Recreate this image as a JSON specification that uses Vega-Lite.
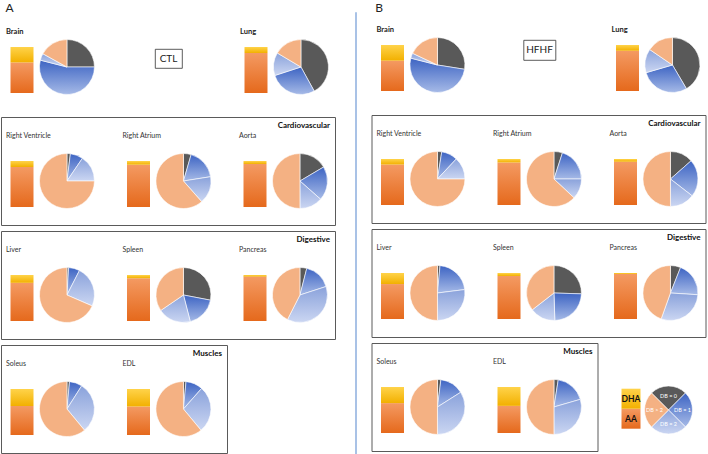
{
"$schema":"https://vega.github.io/schema/vega-lite/v6.json",
"padding":{"left":0,"top":0,"right":0,"bottom":0},
"background":"white",
"config":{"font":"Lato","view":{"stroke":null}},
"datasets":{"d":[
{"p":"CTL","g":"Top","o":"Brain","m":"FA","c":"AA","v":66.5},{"p":"CTL","g":"Top","o":"Brain","m":"FA","c":"DHA","v":33.5},
{"p":"CTL","g":"Top","o":"Brain","m":"DB","c":"DB = 0","v":25},{"p":"CTL","g":"Top","o":"Brain","m":"DB","c":"DB = 1","v":54},{"p":"CTL","g":"Top","o":"Brain","m":"DB","c":"DB = 2","v":4},{"p":"CTL","g":"Top","o":"Brain","m":"DB","c":"DB > 2","v":17},
{"p":"CTL","g":"Top","o":"Lung","m":"FA","c":"AA","v":87},{"p":"CTL","g":"Top","o":"Lung","m":"FA","c":"DHA","v":13},
{"p":"CTL","g":"Top","o":"Lung","m":"DB","c":"DB = 0","v":42},{"p":"CTL","g":"Top","o":"Lung","m":"DB","c":"DB = 1","v":28},{"p":"CTL","g":"Top","o":"Lung","m":"DB","c":"DB = 2","v":13.5},{"p":"CTL","g":"Top","o":"Lung","m":"DB","c":"DB > 2","v":16.5},
{"p":"CTL","g":"Cardiovascular","o":"Right Ventricle","m":"FA","c":"AA","v":87},{"p":"CTL","g":"Cardiovascular","o":"Right Ventricle","m":"FA","c":"DHA","v":13},
{"p":"CTL","g":"Cardiovascular","o":"Right Ventricle","m":"DB","c":"DB = 0","v":2},{"p":"CTL","g":"Cardiovascular","o":"Right Ventricle","m":"DB","c":"DB = 1","v":7.5},{"p":"CTL","g":"Cardiovascular","o":"Right Ventricle","m":"DB","c":"DB = 2","v":15.5},{"p":"CTL","g":"Cardiovascular","o":"Right Ventricle","m":"DB","c":"DB > 2","v":75},
{"p":"CTL","g":"Cardiovascular","o":"Right Atrium","m":"FA","c":"AA","v":92},{"p":"CTL","g":"Cardiovascular","o":"Right Atrium","m":"FA","c":"DHA","v":8},
{"p":"CTL","g":"Cardiovascular","o":"Right Atrium","m":"DB","c":"DB = 0","v":4.5},{"p":"CTL","g":"Cardiovascular","o":"Right Atrium","m":"DB","c":"DB = 1","v":18},{"p":"CTL","g":"Cardiovascular","o":"Right Atrium","m":"DB","c":"DB = 2","v":16},{"p":"CTL","g":"Cardiovascular","o":"Right Atrium","m":"DB","c":"DB > 2","v":61.5},
{"p":"CTL","g":"Cardiovascular","o":"Aorta","m":"FA","c":"AA","v":93.5},{"p":"CTL","g":"Cardiovascular","o":"Aorta","m":"FA","c":"DHA","v":6.5},
{"p":"CTL","g":"Cardiovascular","o":"Aorta","m":"DB","c":"DB = 0","v":16.5},{"p":"CTL","g":"Cardiovascular","o":"Aorta","m":"DB","c":"DB = 1","v":20},{"p":"CTL","g":"Cardiovascular","o":"Aorta","m":"DB","c":"DB = 2","v":13.5},{"p":"CTL","g":"Cardiovascular","o":"Aorta","m":"DB","c":"DB > 2","v":50},
{"p":"CTL","g":"Digestive","o":"Liver","m":"FA","c":"AA","v":83},{"p":"CTL","g":"Digestive","o":"Liver","m":"FA","c":"DHA","v":17},
{"p":"CTL","g":"Digestive","o":"Liver","m":"DB","c":"DB = 0","v":1},{"p":"CTL","g":"Digestive","o":"Liver","m":"DB","c":"DB = 1","v":6.5},{"p":"CTL","g":"Digestive","o":"Liver","m":"DB","c":"DB = 2","v":24},{"p":"CTL","g":"Digestive","o":"Liver","m":"DB","c":"DB > 2","v":68.5},
{"p":"CTL","g":"Digestive","o":"Spleen","m":"FA","c":"AA","v":93},{"p":"CTL","g":"Digestive","o":"Spleen","m":"FA","c":"DHA","v":7},
{"p":"CTL","g":"Digestive","o":"Spleen","m":"DB","c":"DB = 0","v":28},{"p":"CTL","g":"Digestive","o":"Spleen","m":"DB","c":"DB = 1","v":18},{"p":"CTL","g":"Digestive","o":"Spleen","m":"DB","c":"DB = 2","v":19.5},{"p":"CTL","g":"Digestive","o":"Spleen","m":"DB","c":"DB > 2","v":34.5},
{"p":"CTL","g":"Digestive","o":"Pancreas","m":"FA","c":"AA","v":96.5},{"p":"CTL","g":"Digestive","o":"Pancreas","m":"FA","c":"DHA","v":3.5},
{"p":"CTL","g":"Digestive","o":"Pancreas","m":"DB","c":"DB = 0","v":4},{"p":"CTL","g":"Digestive","o":"Pancreas","m":"DB","c":"DB = 1","v":16},{"p":"CTL","g":"Digestive","o":"Pancreas","m":"DB","c":"DB = 2","v":37.5},{"p":"CTL","g":"Digestive","o":"Pancreas","m":"DB","c":"DB > 2","v":42.5},
{"p":"CTL","g":"Muscles","o":"Soleus","m":"FA","c":"AA","v":63},{"p":"CTL","g":"Muscles","o":"Soleus","m":"FA","c":"DHA","v":37},
{"p":"CTL","g":"Muscles","o":"Soleus","m":"DB","c":"DB = 0","v":1.5},{"p":"CTL","g":"Muscles","o":"Soleus","m":"DB","c":"DB = 1","v":7.5},{"p":"CTL","g":"Muscles","o":"Soleus","m":"DB","c":"DB = 2","v":30},{"p":"CTL","g":"Muscles","o":"Soleus","m":"DB","c":"DB > 2","v":61},
{"p":"CTL","g":"Muscles","o":"EDL","m":"FA","c":"AA","v":62},{"p":"CTL","g":"Muscles","o":"EDL","m":"FA","c":"DHA","v":38},
{"p":"CTL","g":"Muscles","o":"EDL","m":"DB","c":"DB = 0","v":1.5},{"p":"CTL","g":"Muscles","o":"EDL","m":"DB","c":"DB = 1","v":10},{"p":"CTL","g":"Muscles","o":"EDL","m":"DB","c":"DB = 2","v":27.5},{"p":"CTL","g":"Muscles","o":"EDL","m":"DB","c":"DB > 2","v":61},
{"p":"HFHF","g":"Top","o":"Brain","m":"FA","c":"AA","v":66},{"p":"HFHF","g":"Top","o":"Brain","m":"FA","c":"DHA","v":34},
{"p":"HFHF","g":"Top","o":"Brain","m":"DB","c":"DB = 0","v":27.5},{"p":"HFHF","g":"Top","o":"Brain","m":"DB","c":"DB = 1","v":51.5},{"p":"HFHF","g":"Top","o":"Brain","m":"DB","c":"DB = 2","v":3},{"p":"HFHF","g":"Top","o":"Brain","m":"DB","c":"DB > 2","v":18},
{"p":"HFHF","g":"Top","o":"Lung","m":"FA","c":"AA","v":87.5},{"p":"HFHF","g":"Top","o":"Lung","m":"FA","c":"DHA","v":12.5},
{"p":"HFHF","g":"Top","o":"Lung","m":"DB","c":"DB = 0","v":41.5},{"p":"HFHF","g":"Top","o":"Lung","m":"DB","c":"DB = 1","v":29},{"p":"HFHF","g":"Top","o":"Lung","m":"DB","c":"DB = 2","v":14},{"p":"HFHF","g":"Top","o":"Lung","m":"DB","c":"DB > 2","v":15.5},
{"p":"HFHF","g":"Cardiovascular","o":"Right Ventricle","m":"FA","c":"AA","v":88},{"p":"HFHF","g":"Cardiovascular","o":"Right Ventricle","m":"FA","c":"DHA","v":12},
{"p":"HFHF","g":"Cardiovascular","o":"Right Ventricle","m":"DB","c":"DB = 0","v":2.5},{"p":"HFHF","g":"Cardiovascular","o":"Right Ventricle","m":"DB","c":"DB = 1","v":9.5},{"p":"HFHF","g":"Cardiovascular","o":"Right Ventricle","m":"DB","c":"DB = 2","v":13},{"p":"HFHF","g":"Cardiovascular","o":"Right Ventricle","m":"DB","c":"DB > 2","v":75},
{"p":"HFHF","g":"Cardiovascular","o":"Right Atrium","m":"FA","c":"AA","v":92.5},{"p":"HFHF","g":"Cardiovascular","o":"Right Atrium","m":"FA","c":"DHA","v":7.5},
{"p":"HFHF","g":"Cardiovascular","o":"Right Atrium","m":"DB","c":"DB = 0","v":5},{"p":"HFHF","g":"Cardiovascular","o":"Right Atrium","m":"DB","c":"DB = 1","v":20},{"p":"HFHF","g":"Cardiovascular","o":"Right Atrium","m":"DB","c":"DB = 2","v":12},{"p":"HFHF","g":"Cardiovascular","o":"Right Atrium","m":"DB","c":"DB > 2","v":63},
{"p":"HFHF","g":"Cardiovascular","o":"Aorta","m":"FA","c":"AA","v":94},{"p":"HFHF","g":"Cardiovascular","o":"Aorta","m":"FA","c":"DHA","v":6},
{"p":"HFHF","g":"Cardiovascular","o":"Aorta","m":"DB","c":"DB = 0","v":13.5},{"p":"HFHF","g":"Cardiovascular","o":"Aorta","m":"DB","c":"DB = 1","v":22},{"p":"HFHF","g":"Cardiovascular","o":"Aorta","m":"DB","c":"DB = 2","v":14.5},{"p":"HFHF","g":"Cardiovascular","o":"Aorta","m":"DB","c":"DB > 2","v":50},
{"p":"HFHF","g":"Digestive","o":"Liver","m":"FA","c":"AA","v":76},{"p":"HFHF","g":"Digestive","o":"Liver","m":"FA","c":"DHA","v":24},
{"p":"HFHF","g":"Digestive","o":"Liver","m":"DB","c":"DB = 0","v":1.5},{"p":"HFHF","g":"Digestive","o":"Liver","m":"DB","c":"DB = 1","v":21.5},{"p":"HFHF","g":"Digestive","o":"Liver","m":"DB","c":"DB = 2","v":27},{"p":"HFHF","g":"Digestive","o":"Liver","m":"DB","c":"DB > 2","v":50},
{"p":"HFHF","g":"Digestive","o":"Spleen","m":"FA","c":"AA","v":93.5},{"p":"HFHF","g":"Digestive","o":"Spleen","m":"FA","c":"DHA","v":6.5},
{"p":"HFHF","g":"Digestive","o":"Spleen","m":"DB","c":"DB = 0","v":25.5},{"p":"HFHF","g":"Digestive","o":"Spleen","m":"DB","c":"DB = 1","v":24},{"p":"HFHF","g":"Digestive","o":"Spleen","m":"DB","c":"DB = 2","v":15},{"p":"HFHF","g":"Digestive","o":"Spleen","m":"DB","c":"DB > 2","v":35.5},
{"p":"HFHF","g":"Digestive","o":"Pancreas","m":"FA","c":"AA","v":97.8},{"p":"HFHF","g":"Digestive","o":"Pancreas","m":"FA","c":"DHA","v":2.2},
{"p":"HFHF","g":"Digestive","o":"Pancreas","m":"DB","c":"DB = 0","v":6},{"p":"HFHF","g":"Digestive","o":"Pancreas","m":"DB","c":"DB = 1","v":20},{"p":"HFHF","g":"Digestive","o":"Pancreas","m":"DB","c":"DB = 2","v":29.5},{"p":"HFHF","g":"Digestive","o":"Pancreas","m":"DB","c":"DB > 2","v":44.5},
{"p":"HFHF","g":"Muscles","o":"Soleus","m":"FA","c":"AA","v":65},{"p":"HFHF","g":"Muscles","o":"Soleus","m":"FA","c":"DHA","v":35},
{"p":"HFHF","g":"Muscles","o":"Soleus","m":"DB","c":"DB = 0","v":2},{"p":"HFHF","g":"Muscles","o":"Soleus","m":"DB","c":"DB = 1","v":14},{"p":"HFHF","g":"Muscles","o":"Soleus","m":"DB","c":"DB = 2","v":34},{"p":"HFHF","g":"Muscles","o":"Soleus","m":"DB","c":"DB > 2","v":50},
{"p":"HFHF","g":"Muscles","o":"EDL","m":"FA","c":"AA","v":59},{"p":"HFHF","g":"Muscles","o":"EDL","m":"FA","c":"DHA","v":41},
{"p":"HFHF","g":"Muscles","o":"EDL","m":"DB","c":"DB = 0","v":2.5},{"p":"HFHF","g":"Muscles","o":"EDL","m":"DB","c":"DB = 1","v":18},{"p":"HFHF","g":"Muscles","o":"EDL","m":"DB","c":"DB = 2","v":29.5},{"p":"HFHF","g":"Muscles","o":"EDL","m":"DB","c":"DB > 2","v":50},
{"p":"HFHF","g":"Legend","o":"Legend","m":"FA","c":"AA","v":50},{"p":"HFHF","g":"Legend","o":"Legend","m":"FA","c":"DHA","v":50},
{"p":"HFHF","g":"Legend","o":"Legend","m":"DB","c":"DB = 0","v":25},{"p":"HFHF","g":"Legend","o":"Legend","m":"DB","c":"DB = 1","v":25},{"p":"HFHF","g":"Legend","o":"Legend","m":"DB","c":"DB = 2","v":25},{"p":"HFHF","g":"Legend","o":"Legend","m":"DB","c":"DB > 2","v":25}
]},
"spacing":18,
"hconcat":[
{"spacing":12,"vconcat":[
 {"width":17,"height":12,"data":{"values":[{}]},"mark":{"type":"text","text":"A","fontSize":12,"color":"#222222","baseline":"middle"}},
 {"spacing":4,"vconcat":[
  {"spacing":52,"hconcat":[
   {"width":101,"height":86,"data":{"name":"d"},
    "transform":[{"filter":"datum.p=='CTL' && datum.o=='Brain'"},{"stack":"v","groupby":["o","m"],"sort":[{"field":"c","order":"ascending"}],"as":["v0","v1"]}],
    "layer":[
     {"encoding":{"x":{"field":"o","type":"nominal","scale":{"domain":["Brain"],"paddingInner":0,"paddingOuter":0},"axis":null},
       "y":{"field":"v0","type":"quantitative","scale":{"domain":[-41.3,145.65],"nice":false,"zero":false},"axis":null},"y2":{"field":"v1"}},
      "layer":[{"transform":[{"filter":"datum.c=='AA'"}],"mark":{"type":"bar","width":23,"xOffset":-29.5,"fill":{"gradient":"linear","x1":0,"y1":0,"x2":0,"y2":1,"stops":[{"offset":0,"color":"#F49A62"},{"offset":1,"color":"#E5691C"}]}}},{"transform":[{"filter":"datum.c=='DHA'"}],"mark":{"type":"bar","width":23,"xOffset":-29.5,"fill":{"gradient":"linear","x1":0,"y1":0,"x2":0,"y2":1,"stops":[{"offset":0,"color":"#FFD34A"},{"offset":1,"color":"#F2B000"}]}}}]},
     {"transform":[{"filter":"datum.c=='AA'"}],"mark":{"type":"text","align":"left","baseline":"alphabetic","dx":5,"fontSize":7.5,"fontWeight":"bold","color":"#222222"},
      "encoding":{"x":{"field":"o","type":"nominal","bandPosition":0,"axis":null},"y":{"datum":128.3,"type":"quantitative"},"text":{"field":"o"}}},
     {"encoding":{"x":{"field":"o","type":"nominal","bandPosition":0.653,"axis":null},
       "y":{"datum":56.5,"type":"quantitative"},"theta":{"field":"v0","type":"quantitative","scale":{"domain":[0,100]}},"theta2":{"field":"v1"}},
      "layer":[{"transform":[{"filter":"datum.c=='DB = 0'"}],"mark":{"type":"arc","outerRadius":27.5,"stroke":"#ffffff","strokeWidth":0.6,"fill":"#595959"}},{"transform":[{"filter":"datum.c=='DB = 1'"}],"mark":{"type":"arc","outerRadius":27.5,"stroke":"#ffffff","strokeWidth":0.6,"fill":{"gradient":"linear","x1":0,"y1":0,"x2":0,"y2":1,"stops":[{"offset":0,"color":"#3D64C3"},{"offset":1,"color":"#A6BAE7"}]}}},{"transform":[{"filter":"datum.c=='DB = 2'"}],"mark":{"type":"arc","outerRadius":27.5,"stroke":"#ffffff","strokeWidth":0.6,"fill":{"gradient":"linear","x1":0,"y1":0,"x2":0,"y2":1,"stops":[{"offset":0,"color":"#8AA2DB"},{"offset":1,"color":"#CBD6F2"}]}}},{"transform":[{"filter":"datum.c=='DB > 2'"}],"mark":{"type":"arc","outerRadius":27.5,"stroke":"#ffffff","strokeWidth":0.6,"fill":"#F4B183"}}]}
    ]},
   {"spacing":0,"vconcat":[
    {"width":27,"height":22,"data":{"values":[{}]},"mark":{"type":"text","text":""}},
    {"width":27,"height":19,"view":{"stroke":"#333333","strokeWidth":0.8},"data":{"values":[{}]},"mark":{"type":"text","text":"CTL","fontSize":10,"color":"#222222","baseline":"middle"}}
   ]},
   {"width":101,"height":86,"data":{"name":"d"},
    "transform":[{"filter":"datum.p=='CTL' && datum.o=='Lung'"},{"stack":"v","groupby":["o","m"],"sort":[{"field":"c","order":"ascending"}],"as":["v0","v1"]}],
    "layer":[
     {"encoding":{"x":{"field":"o","type":"nominal","scale":{"domain":["Lung"],"paddingInner":0,"paddingOuter":0},"axis":null},
       "y":{"field":"v0","type":"quantitative","scale":{"domain":[-41.3,145.65],"nice":false,"zero":false},"axis":null},"y2":{"field":"v1"}},
      "layer":[{"transform":[{"filter":"datum.c=='AA'"}],"mark":{"type":"bar","width":23,"xOffset":-29.5,"fill":{"gradient":"linear","x1":0,"y1":0,"x2":0,"y2":1,"stops":[{"offset":0,"color":"#F49A62"},{"offset":1,"color":"#E5691C"}]}}},{"transform":[{"filter":"datum.c=='DHA'"}],"mark":{"type":"bar","width":23,"xOffset":-29.5,"fill":{"gradient":"linear","x1":0,"y1":0,"x2":0,"y2":1,"stops":[{"offset":0,"color":"#FFD34A"},{"offset":1,"color":"#F2B000"}]}}}]},
     {"transform":[{"filter":"datum.c=='AA'"}],"mark":{"type":"text","align":"left","baseline":"alphabetic","dx":5,"fontSize":7.5,"fontWeight":"bold","color":"#222222"},
      "encoding":{"x":{"field":"o","type":"nominal","bandPosition":0,"axis":null},"y":{"datum":128.3,"type":"quantitative"},"text":{"field":"o"}}},
     {"encoding":{"x":{"field":"o","type":"nominal","bandPosition":0.653,"axis":null},
       "y":{"datum":56.5,"type":"quantitative"},"theta":{"field":"v0","type":"quantitative","scale":{"domain":[0,100]}},"theta2":{"field":"v1"}},
      "layer":[{"transform":[{"filter":"datum.c=='DB = 0'"}],"mark":{"type":"arc","outerRadius":27.5,"stroke":"#ffffff","strokeWidth":0.6,"fill":"#595959"}},{"transform":[{"filter":"datum.c=='DB = 1'"}],"mark":{"type":"arc","outerRadius":27.5,"stroke":"#ffffff","strokeWidth":0.6,"fill":{"gradient":"linear","x1":0,"y1":0,"x2":0,"y2":1,"stops":[{"offset":0,"color":"#3D64C3"},{"offset":1,"color":"#A6BAE7"}]}}},{"transform":[{"filter":"datum.c=='DB = 2'"}],"mark":{"type":"arc","outerRadius":27.5,"stroke":"#ffffff","strokeWidth":0.6,"fill":{"gradient":"linear","x1":0,"y1":0,"x2":0,"y2":1,"stops":[{"offset":0,"color":"#8AA2DB"},{"offset":1,"color":"#CBD6F2"}]}}},{"transform":[{"filter":"datum.c=='DB > 2'"}],"mark":{"type":"arc","outerRadius":27.5,"stroke":"#ffffff","strokeWidth":0.6,"fill":"#F4B183"}}]}
    ]}
  ]},
  {"width":334,"height":108,"view":{"stroke":"#5a5a5a","strokeWidth":1},
   "title":{"text":"Cardiovascular","anchor":"end","frame":"group","offset":-12.5,"dx":-5,"fontSize":8,"fontWeight":"bold","color":"#111111"},
   "data":{"name":"d"},
   "transform":[{"filter":"datum.p=='CTL' && datum.g=='Cardiovascular'"},{"stack":"v","groupby":["o","m"],"sort":[{"field":"c","order":"ascending"}],"as":["v0","v1"]}],
   "layer":[
    {"encoding":{"x":{"field":"o","type":"nominal","scale":{"domain":["Right Ventricle","Right Atrium","Aorta"],"paddingInner":0.133,"paddingOuter":0},"axis":null},
      "y":{"field":"v0","type":"quantitative","scale":{"domain":[-39.13,195.65],"nice":false,"zero":false},"axis":null},"y2":{"field":"v1"}},
     "layer":[{"transform":[{"filter":"datum.c=='AA'"}],"mark":{"type":"bar","width":23,"xOffset":-29.5,"fill":{"gradient":"linear","x1":0,"y1":0,"x2":0,"y2":1,"stops":[{"offset":0,"color":"#F49A62"},{"offset":1,"color":"#E5691C"}]}}},{"transform":[{"filter":"datum.c=='DHA'"}],"mark":{"type":"bar","width":23,"xOffset":-29.5,"fill":{"gradient":"linear","x1":0,"y1":0,"x2":0,"y2":1,"stops":[{"offset":0,"color":"#FFD34A"},{"offset":1,"color":"#F2B000"}]}}}]},
    {"transform":[{"filter":"datum.c=='AA'"}],"mark":{"type":"text","align":"left","baseline":"alphabetic","dx":5,"fontSize":7,"color":"#333333"},
     "encoding":{"x":{"field":"o","type":"nominal","bandPosition":0,"axis":null},"y":{"datum":150,"type":"quantitative"},"text":{"field":"o"}}},
    {"encoding":{"x":{"field":"o","type":"nominal","bandPosition":0.653,"axis":null},
      "y":{"datum":56.5,"type":"quantitative"},"theta":{"field":"v0","type":"quantitative","scale":{"domain":[0,100]}},"theta2":{"field":"v1"}},
     "layer":[{"transform":[{"filter":"datum.c=='DB = 0'"}],"mark":{"type":"arc","outerRadius":27.5,"stroke":"#ffffff","strokeWidth":0.6,"fill":"#595959"}},{"transform":[{"filter":"datum.c=='DB = 1'"}],"mark":{"type":"arc","outerRadius":27.5,"stroke":"#ffffff","strokeWidth":0.6,"fill":{"gradient":"linear","x1":0,"y1":0,"x2":0,"y2":1,"stops":[{"offset":0,"color":"#3D64C3"},{"offset":1,"color":"#A6BAE7"}]}}},{"transform":[{"filter":"datum.c=='DB = 2'"}],"mark":{"type":"arc","outerRadius":27.5,"stroke":"#ffffff","strokeWidth":0.6,"fill":{"gradient":"linear","x1":0,"y1":0,"x2":0,"y2":1,"stops":[{"offset":0,"color":"#8AA2DB"},{"offset":1,"color":"#CBD6F2"}]}}},{"transform":[{"filter":"datum.c=='DB > 2'"}],"mark":{"type":"arc","outerRadius":27.5,"stroke":"#ffffff","strokeWidth":0.6,"fill":"#F4B183"}}]}
   ]},
  {"width":334,"height":108,"view":{"stroke":"#5a5a5a","strokeWidth":1},
   "title":{"text":"Digestive","anchor":"end","frame":"group","offset":-12.5,"dx":-5,"fontSize":8,"fontWeight":"bold","color":"#111111"},
   "data":{"name":"d"},
   "transform":[{"filter":"datum.p=='CTL' && datum.g=='Digestive'"},{"stack":"v","groupby":["o","m"],"sort":[{"field":"c","order":"ascending"}],"as":["v0","v1"]}],
   "layer":[
    {"encoding":{"x":{"field":"o","type":"nominal","scale":{"domain":["Liver","Spleen","Pancreas"],"paddingInner":0.133,"paddingOuter":0},"axis":null},
      "y":{"field":"v0","type":"quantitative","scale":{"domain":[-39.13,195.65],"nice":false,"zero":false},"axis":null},"y2":{"field":"v1"}},
     "layer":[{"transform":[{"filter":"datum.c=='AA'"}],"mark":{"type":"bar","width":23,"xOffset":-29.5,"fill":{"gradient":"linear","x1":0,"y1":0,"x2":0,"y2":1,"stops":[{"offset":0,"color":"#F49A62"},{"offset":1,"color":"#E5691C"}]}}},{"transform":[{"filter":"datum.c=='DHA'"}],"mark":{"type":"bar","width":23,"xOffset":-29.5,"fill":{"gradient":"linear","x1":0,"y1":0,"x2":0,"y2":1,"stops":[{"offset":0,"color":"#FFD34A"},{"offset":1,"color":"#F2B000"}]}}}]},
    {"transform":[{"filter":"datum.c=='AA'"}],"mark":{"type":"text","align":"left","baseline":"alphabetic","dx":5,"fontSize":7,"color":"#333333"},
     "encoding":{"x":{"field":"o","type":"nominal","bandPosition":0,"axis":null},"y":{"datum":150,"type":"quantitative"},"text":{"field":"o"}}},
    {"encoding":{"x":{"field":"o","type":"nominal","bandPosition":0.653,"axis":null},
      "y":{"datum":56.5,"type":"quantitative"},"theta":{"field":"v0","type":"quantitative","scale":{"domain":[0,100]}},"theta2":{"field":"v1"}},
     "layer":[{"transform":[{"filter":"datum.c=='DB = 0'"}],"mark":{"type":"arc","outerRadius":27.5,"stroke":"#ffffff","strokeWidth":0.6,"fill":"#595959"}},{"transform":[{"filter":"datum.c=='DB = 1'"}],"mark":{"type":"arc","outerRadius":27.5,"stroke":"#ffffff","strokeWidth":0.6,"fill":{"gradient":"linear","x1":0,"y1":0,"x2":0,"y2":1,"stops":[{"offset":0,"color":"#3D64C3"},{"offset":1,"color":"#A6BAE7"}]}}},{"transform":[{"filter":"datum.c=='DB = 2'"}],"mark":{"type":"arc","outerRadius":27.5,"stroke":"#ffffff","strokeWidth":0.6,"fill":{"gradient":"linear","x1":0,"y1":0,"x2":0,"y2":1,"stops":[{"offset":0,"color":"#8AA2DB"},{"offset":1,"color":"#CBD6F2"}]}}},{"transform":[{"filter":"datum.c=='DB > 2'"}],"mark":{"type":"arc","outerRadius":27.5,"stroke":"#ffffff","strokeWidth":0.6,"fill":"#F4B183"}}]}
   ]},
  {"width":226,"height":108,"view":{"stroke":"#5a5a5a","strokeWidth":1},
   "title":{"text":"Muscles","anchor":"end","frame":"group","offset":-12.5,"dx":-5,"fontSize":8,"fontWeight":"bold","color":"#111111"},
   "data":{"name":"d"},
   "transform":[{"filter":"datum.p=='CTL' && datum.g=='Muscles'"},{"stack":"v","groupby":["o","m"],"sort":[{"field":"c","order":"ascending"}],"as":["v0","v1"]}],
   "layer":[
    {"encoding":{"x":{"field":"o","type":"nominal","scale":{"domain":["Soleus","EDL"],"paddingInner":0.133,"paddingOuter":0.0365,"align":0},"axis":null},
      "y":{"field":"v0","type":"quantitative","scale":{"domain":[-39.13,195.65],"nice":false,"zero":false},"axis":null},"y2":{"field":"v1"}},
     "layer":[{"transform":[{"filter":"datum.c=='AA'"}],"mark":{"type":"bar","width":23,"xOffset":-29.5,"fill":{"gradient":"linear","x1":0,"y1":0,"x2":0,"y2":1,"stops":[{"offset":0,"color":"#F49A62"},{"offset":1,"color":"#E5691C"}]}}},{"transform":[{"filter":"datum.c=='DHA'"}],"mark":{"type":"bar","width":23,"xOffset":-29.5,"fill":{"gradient":"linear","x1":0,"y1":0,"x2":0,"y2":1,"stops":[{"offset":0,"color":"#FFD34A"},{"offset":1,"color":"#F2B000"}]}}}]},
    {"transform":[{"filter":"datum.c=='AA'"}],"mark":{"type":"text","align":"left","baseline":"alphabetic","dx":5,"fontSize":7,"color":"#333333"},
     "encoding":{"x":{"field":"o","type":"nominal","bandPosition":0,"axis":null},"y":{"datum":150,"type":"quantitative"},"text":{"field":"o"}}},
    {"encoding":{"x":{"field":"o","type":"nominal","bandPosition":0.653,"axis":null},
      "y":{"datum":56.5,"type":"quantitative"},"theta":{"field":"v0","type":"quantitative","scale":{"domain":[0,100]}},"theta2":{"field":"v1"}},
     "layer":[{"transform":[{"filter":"datum.c=='DB = 0'"}],"mark":{"type":"arc","outerRadius":27.5,"stroke":"#ffffff","strokeWidth":0.6,"fill":"#595959"}},{"transform":[{"filter":"datum.c=='DB = 1'"}],"mark":{"type":"arc","outerRadius":27.5,"stroke":"#ffffff","strokeWidth":0.6,"fill":{"gradient":"linear","x1":0,"y1":0,"x2":0,"y2":1,"stops":[{"offset":0,"color":"#3D64C3"},{"offset":1,"color":"#A6BAE7"}]}}},{"transform":[{"filter":"datum.c=='DB = 2'"}],"mark":{"type":"arc","outerRadius":27.5,"stroke":"#ffffff","strokeWidth":0.6,"fill":{"gradient":"linear","x1":0,"y1":0,"x2":0,"y2":1,"stops":[{"offset":0,"color":"#8AA2DB"},{"offset":1,"color":"#CBD6F2"}]}}},{"transform":[{"filter":"datum.c=='DB > 2'"}],"mark":{"type":"arc","outerRadius":27.5,"stroke":"#ffffff","strokeWidth":0.6,"fill":"#F4B183"}}]}
   ]}
 ]}
]},
{"spacing":13.5,"hconcat":[
 {"spacing":0,"vconcat":[
  {"width":1,"height":8,"data":{"values":[{}]},"mark":{"type":"text","text":""}},
  {"width":1,"height":446,"view":{"stroke":"#A9C2E6","strokeWidth":1},"data":{"values":[{}]},"mark":{"type":"text","text":""}}
 ]},
 {"spacing":10,"vconcat":[
  {"width":15,"height":12,"data":{"values":[{}]},"mark":{"type":"text","text":"B","fontSize":12,"color":"#222222","baseline":"middle"}},
  {"spacing":4,"vconcat":[
   {"spacing":50,"hconcat":[
    {"width":101,"height":86,"data":{"name":"d"},
     "transform":[{"filter":"datum.p=='HFHF' && datum.o=='Brain'"},{"stack":"v","groupby":["o","m"],"sort":[{"field":"c","order":"ascending"}],"as":["v0","v1"]}],
     "layer":[
      {"encoding":{"x":{"field":"o","type":"nominal","scale":{"domain":["Brain"],"paddingInner":0,"paddingOuter":0},"axis":null},
        "y":{"field":"v0","type":"quantitative","scale":{"domain":[-41.3,145.65],"nice":false,"zero":false},"axis":null},"y2":{"field":"v1"}},
       "layer":[{"transform":[{"filter":"datum.c=='AA'"}],"mark":{"type":"bar","width":23,"xOffset":-29.5,"fill":{"gradient":"linear","x1":0,"y1":0,"x2":0,"y2":1,"stops":[{"offset":0,"color":"#F49A62"},{"offset":1,"color":"#E5691C"}]}}},{"transform":[{"filter":"datum.c=='DHA'"}],"mark":{"type":"bar","width":23,"xOffset":-29.5,"fill":{"gradient":"linear","x1":0,"y1":0,"x2":0,"y2":1,"stops":[{"offset":0,"color":"#FFD34A"},{"offset":1,"color":"#F2B000"}]}}}]},
      {"transform":[{"filter":"datum.c=='AA'"}],"mark":{"type":"text","align":"left","baseline":"alphabetic","dx":5,"fontSize":7.5,"fontWeight":"bold","color":"#222222"},
       "encoding":{"x":{"field":"o","type":"nominal","bandPosition":0,"axis":null},"y":{"datum":128.3,"type":"quantitative"},"text":{"field":"o"}}},
      {"encoding":{"x":{"field":"o","type":"nominal","bandPosition":0.653,"axis":null},
        "y":{"datum":56.5,"type":"quantitative"},"theta":{"field":"v0","type":"quantitative","scale":{"domain":[0,100]}},"theta2":{"field":"v1"}},
       "layer":[{"transform":[{"filter":"datum.c=='DB = 0'"}],"mark":{"type":"arc","outerRadius":27.5,"stroke":"#ffffff","strokeWidth":0.6,"fill":"#595959"}},{"transform":[{"filter":"datum.c=='DB = 1'"}],"mark":{"type":"arc","outerRadius":27.5,"stroke":"#ffffff","strokeWidth":0.6,"fill":{"gradient":"linear","x1":0,"y1":0,"x2":0,"y2":1,"stops":[{"offset":0,"color":"#3D64C3"},{"offset":1,"color":"#A6BAE7"}]}}},{"transform":[{"filter":"datum.c=='DB = 2'"}],"mark":{"type":"arc","outerRadius":27.5,"stroke":"#ffffff","strokeWidth":0.6,"fill":{"gradient":"linear","x1":0,"y1":0,"x2":0,"y2":1,"stops":[{"offset":0,"color":"#8AA2DB"},{"offset":1,"color":"#CBD6F2"}]}}},{"transform":[{"filter":"datum.c=='DB > 2'"}],"mark":{"type":"arc","outerRadius":27.5,"stroke":"#ffffff","strokeWidth":0.6,"fill":"#F4B183"}}]}
     ]},
    {"spacing":0,"vconcat":[
     {"width":32,"height":15,"data":{"values":[{}]},"mark":{"type":"text","text":""}},
     {"width":32,"height":20,"view":{"stroke":"#333333","strokeWidth":0.8},"data":{"values":[{}]},"mark":{"type":"text","text":"HFHF","fontSize":10,"color":"#222222","baseline":"middle"}}
    ]},
    {"width":101,"height":86,"data":{"name":"d"},
     "transform":[{"filter":"datum.p=='HFHF' && datum.o=='Lung'"},{"stack":"v","groupby":["o","m"],"sort":[{"field":"c","order":"ascending"}],"as":["v0","v1"]}],
     "layer":[
      {"encoding":{"x":{"field":"o","type":"nominal","scale":{"domain":["Lung"],"paddingInner":0,"paddingOuter":0},"axis":null},
        "y":{"field":"v0","type":"quantitative","scale":{"domain":[-41.3,145.65],"nice":false,"zero":false},"axis":null},"y2":{"field":"v1"}},
       "layer":[{"transform":[{"filter":"datum.c=='AA'"}],"mark":{"type":"bar","width":23,"xOffset":-29.5,"fill":{"gradient":"linear","x1":0,"y1":0,"x2":0,"y2":1,"stops":[{"offset":0,"color":"#F49A62"},{"offset":1,"color":"#E5691C"}]}}},{"transform":[{"filter":"datum.c=='DHA'"}],"mark":{"type":"bar","width":23,"xOffset":-29.5,"fill":{"gradient":"linear","x1":0,"y1":0,"x2":0,"y2":1,"stops":[{"offset":0,"color":"#FFD34A"},{"offset":1,"color":"#F2B000"}]}}}]},
      {"transform":[{"filter":"datum.c=='AA'"}],"mark":{"type":"text","align":"left","baseline":"alphabetic","dx":5,"fontSize":7.5,"fontWeight":"bold","color":"#222222"},
       "encoding":{"x":{"field":"o","type":"nominal","bandPosition":0,"axis":null},"y":{"datum":128.3,"type":"quantitative"},"text":{"field":"o"}}},
      {"encoding":{"x":{"field":"o","type":"nominal","bandPosition":0.653,"axis":null},
        "y":{"datum":56.5,"type":"quantitative"},"theta":{"field":"v0","type":"quantitative","scale":{"domain":[0,100]}},"theta2":{"field":"v1"}},
       "layer":[{"transform":[{"filter":"datum.c=='DB = 0'"}],"mark":{"type":"arc","outerRadius":27.5,"stroke":"#ffffff","strokeWidth":0.6,"fill":"#595959"}},{"transform":[{"filter":"datum.c=='DB = 1'"}],"mark":{"type":"arc","outerRadius":27.5,"stroke":"#ffffff","strokeWidth":0.6,"fill":{"gradient":"linear","x1":0,"y1":0,"x2":0,"y2":1,"stops":[{"offset":0,"color":"#3D64C3"},{"offset":1,"color":"#A6BAE7"}]}}},{"transform":[{"filter":"datum.c=='DB = 2'"}],"mark":{"type":"arc","outerRadius":27.5,"stroke":"#ffffff","strokeWidth":0.6,"fill":{"gradient":"linear","x1":0,"y1":0,"x2":0,"y2":1,"stops":[{"offset":0,"color":"#8AA2DB"},{"offset":1,"color":"#CBD6F2"}]}}},{"transform":[{"filter":"datum.c=='DB > 2'"}],"mark":{"type":"arc","outerRadius":27.5,"stroke":"#ffffff","strokeWidth":0.6,"fill":"#F4B183"}}]}
     ]}
   ]},
   {"width":334,"height":108,"view":{"stroke":"#5a5a5a","strokeWidth":1},
    "title":{"text":"Cardiovascular","anchor":"end","frame":"group","offset":-12.5,"dx":-5,"fontSize":8,"fontWeight":"bold","color":"#111111"},
    "data":{"name":"d"},
    "transform":[{"filter":"datum.p=='HFHF' && datum.g=='Cardiovascular'"},{"stack":"v","groupby":["o","m"],"sort":[{"field":"c","order":"ascending"}],"as":["v0","v1"]}],
    "layer":[
     {"encoding":{"x":{"field":"o","type":"nominal","scale":{"domain":["Right Ventricle","Right Atrium","Aorta"],"paddingInner":0.133,"paddingOuter":0},"axis":null},
       "y":{"field":"v0","type":"quantitative","scale":{"domain":[-39.13,195.65],"nice":false,"zero":false},"axis":null},"y2":{"field":"v1"}},
      "layer":[{"transform":[{"filter":"datum.c=='AA'"}],"mark":{"type":"bar","width":23,"xOffset":-29.5,"fill":{"gradient":"linear","x1":0,"y1":0,"x2":0,"y2":1,"stops":[{"offset":0,"color":"#F49A62"},{"offset":1,"color":"#E5691C"}]}}},{"transform":[{"filter":"datum.c=='DHA'"}],"mark":{"type":"bar","width":23,"xOffset":-29.5,"fill":{"gradient":"linear","x1":0,"y1":0,"x2":0,"y2":1,"stops":[{"offset":0,"color":"#FFD34A"},{"offset":1,"color":"#F2B000"}]}}}]},
     {"transform":[{"filter":"datum.c=='AA'"}],"mark":{"type":"text","align":"left","baseline":"alphabetic","dx":5,"fontSize":7,"color":"#333333"},
      "encoding":{"x":{"field":"o","type":"nominal","bandPosition":0,"axis":null},"y":{"datum":150,"type":"quantitative"},"text":{"field":"o"}}},
     {"encoding":{"x":{"field":"o","type":"nominal","bandPosition":0.653,"axis":null},
       "y":{"datum":56.5,"type":"quantitative"},"theta":{"field":"v0","type":"quantitative","scale":{"domain":[0,100]}},"theta2":{"field":"v1"}},
      "layer":[{"transform":[{"filter":"datum.c=='DB = 0'"}],"mark":{"type":"arc","outerRadius":27.5,"stroke":"#ffffff","strokeWidth":0.6,"fill":"#595959"}},{"transform":[{"filter":"datum.c=='DB = 1'"}],"mark":{"type":"arc","outerRadius":27.5,"stroke":"#ffffff","strokeWidth":0.6,"fill":{"gradient":"linear","x1":0,"y1":0,"x2":0,"y2":1,"stops":[{"offset":0,"color":"#3D64C3"},{"offset":1,"color":"#A6BAE7"}]}}},{"transform":[{"filter":"datum.c=='DB = 2'"}],"mark":{"type":"arc","outerRadius":27.5,"stroke":"#ffffff","strokeWidth":0.6,"fill":{"gradient":"linear","x1":0,"y1":0,"x2":0,"y2":1,"stops":[{"offset":0,"color":"#8AA2DB"},{"offset":1,"color":"#CBD6F2"}]}}},{"transform":[{"filter":"datum.c=='DB > 2'"}],"mark":{"type":"arc","outerRadius":27.5,"stroke":"#ffffff","strokeWidth":0.6,"fill":"#F4B183"}}]}
    ]},
   {"width":334,"height":108,"view":{"stroke":"#5a5a5a","strokeWidth":1},
    "title":{"text":"Digestive","anchor":"end","frame":"group","offset":-12.5,"dx":-5,"fontSize":8,"fontWeight":"bold","color":"#111111"},
    "data":{"name":"d"},
    "transform":[{"filter":"datum.p=='HFHF' && datum.g=='Digestive'"},{"stack":"v","groupby":["o","m"],"sort":[{"field":"c","order":"ascending"}],"as":["v0","v1"]}],
    "layer":[
     {"encoding":{"x":{"field":"o","type":"nominal","scale":{"domain":["Liver","Spleen","Pancreas"],"paddingInner":0.133,"paddingOuter":0},"axis":null},
       "y":{"field":"v0","type":"quantitative","scale":{"domain":[-39.13,195.65],"nice":false,"zero":false},"axis":null},"y2":{"field":"v1"}},
      "layer":[{"transform":[{"filter":"datum.c=='AA'"}],"mark":{"type":"bar","width":23,"xOffset":-29.5,"fill":{"gradient":"linear","x1":0,"y1":0,"x2":0,"y2":1,"stops":[{"offset":0,"color":"#F49A62"},{"offset":1,"color":"#E5691C"}]}}},{"transform":[{"filter":"datum.c=='DHA'"}],"mark":{"type":"bar","width":23,"xOffset":-29.5,"fill":{"gradient":"linear","x1":0,"y1":0,"x2":0,"y2":1,"stops":[{"offset":0,"color":"#FFD34A"},{"offset":1,"color":"#F2B000"}]}}}]},
     {"transform":[{"filter":"datum.c=='AA'"}],"mark":{"type":"text","align":"left","baseline":"alphabetic","dx":5,"fontSize":7,"color":"#333333"},
      "encoding":{"x":{"field":"o","type":"nominal","bandPosition":0,"axis":null},"y":{"datum":150,"type":"quantitative"},"text":{"field":"o"}}},
     {"encoding":{"x":{"field":"o","type":"nominal","bandPosition":0.653,"axis":null},
       "y":{"datum":56.5,"type":"quantitative"},"theta":{"field":"v0","type":"quantitative","scale":{"domain":[0,100]}},"theta2":{"field":"v1"}},
      "layer":[{"transform":[{"filter":"datum.c=='DB = 0'"}],"mark":{"type":"arc","outerRadius":27.5,"stroke":"#ffffff","strokeWidth":0.6,"fill":"#595959"}},{"transform":[{"filter":"datum.c=='DB = 1'"}],"mark":{"type":"arc","outerRadius":27.5,"stroke":"#ffffff","strokeWidth":0.6,"fill":{"gradient":"linear","x1":0,"y1":0,"x2":0,"y2":1,"stops":[{"offset":0,"color":"#3D64C3"},{"offset":1,"color":"#A6BAE7"}]}}},{"transform":[{"filter":"datum.c=='DB = 2'"}],"mark":{"type":"arc","outerRadius":27.5,"stroke":"#ffffff","strokeWidth":0.6,"fill":{"gradient":"linear","x1":0,"y1":0,"x2":0,"y2":1,"stops":[{"offset":0,"color":"#8AA2DB"},{"offset":1,"color":"#CBD6F2"}]}}},{"transform":[{"filter":"datum.c=='DB > 2'"}],"mark":{"type":"arc","outerRadius":27.5,"stroke":"#ffffff","strokeWidth":0.6,"fill":"#F4B183"}}]}
    ]},
   {"spacing":12,"hconcat":[
    {"width":226,"height":108,"view":{"stroke":"#5a5a5a","strokeWidth":1},
     "title":{"text":"Muscles","anchor":"end","frame":"group","offset":-12.5,"dx":-5,"fontSize":8,"fontWeight":"bold","color":"#111111"},
     "data":{"name":"d"},
     "transform":[{"filter":"datum.p=='HFHF' && datum.g=='Muscles'"},{"stack":"v","groupby":["o","m"],"sort":[{"field":"c","order":"ascending"}],"as":["v0","v1"]}],
     "layer":[
      {"encoding":{"x":{"field":"o","type":"nominal","scale":{"domain":["Soleus","EDL"],"paddingInner":0.133,"paddingOuter":0.0365,"align":0},"axis":null},
        "y":{"field":"v0","type":"quantitative","scale":{"domain":[-39.13,195.65],"nice":false,"zero":false},"axis":null},"y2":{"field":"v1"}},
       "layer":[{"transform":[{"filter":"datum.c=='AA'"}],"mark":{"type":"bar","width":23,"xOffset":-29.5,"fill":{"gradient":"linear","x1":0,"y1":0,"x2":0,"y2":1,"stops":[{"offset":0,"color":"#F49A62"},{"offset":1,"color":"#E5691C"}]}}},{"transform":[{"filter":"datum.c=='DHA'"}],"mark":{"type":"bar","width":23,"xOffset":-29.5,"fill":{"gradient":"linear","x1":0,"y1":0,"x2":0,"y2":1,"stops":[{"offset":0,"color":"#FFD34A"},{"offset":1,"color":"#F2B000"}]}}}]},
      {"transform":[{"filter":"datum.c=='AA'"}],"mark":{"type":"text","align":"left","baseline":"alphabetic","dx":5,"fontSize":7,"color":"#333333"},
       "encoding":{"x":{"field":"o","type":"nominal","bandPosition":0,"axis":null},"y":{"datum":150,"type":"quantitative"},"text":{"field":"o"}}},
      {"encoding":{"x":{"field":"o","type":"nominal","bandPosition":0.653,"axis":null},
        "y":{"datum":56.5,"type":"quantitative"},"theta":{"field":"v0","type":"quantitative","scale":{"domain":[0,100]}},"theta2":{"field":"v1"}},
       "layer":[{"transform":[{"filter":"datum.c=='DB = 0'"}],"mark":{"type":"arc","outerRadius":27.5,"stroke":"#ffffff","strokeWidth":0.6,"fill":"#595959"}},{"transform":[{"filter":"datum.c=='DB = 1'"}],"mark":{"type":"arc","outerRadius":27.5,"stroke":"#ffffff","strokeWidth":0.6,"fill":{"gradient":"linear","x1":0,"y1":0,"x2":0,"y2":1,"stops":[{"offset":0,"color":"#3D64C3"},{"offset":1,"color":"#A6BAE7"}]}}},{"transform":[{"filter":"datum.c=='DB = 2'"}],"mark":{"type":"arc","outerRadius":27.5,"stroke":"#ffffff","strokeWidth":0.6,"fill":{"gradient":"linear","x1":0,"y1":0,"x2":0,"y2":1,"stops":[{"offset":0,"color":"#8AA2DB"},{"offset":1,"color":"#CBD6F2"}]}}},{"transform":[{"filter":"datum.c=='DB > 2'"}],"mark":{"type":"arc","outerRadius":27.5,"stroke":"#ffffff","strokeWidth":0.6,"fill":"#F4B183"}}]}
     ]},
    {"width":80,"height":108,"data":{"name":"d"},
     "transform":[{"filter":"datum.g=='Legend'"},{"stack":"v","groupby":["o","m"],"sort":[{"field":"c","order":"ascending"}],"as":["v0","v1"]}],
     "layer":[
      {"encoding":{"x":{"field":"o","type":"nominal","scale":{"domain":["Legend"],"paddingInner":0,"paddingOuter":0},"axis":null},
        "y":{"field":"v0","type":"quantitative","scale":{"domain":[-55.75,214.25],"nice":false,"zero":false},"axis":null},"y2":{"field":"v1"}},
       "layer":[{"transform":[{"filter":"datum.c=='AA'"}],"mark":{"type":"bar","width":19,"xOffset":-19.5,"fill":{"gradient":"linear","x1":0,"y1":0,"x2":0,"y2":1,"stops":[{"offset":0,"color":"#F49A62"},{"offset":1,"color":"#E5691C"}]}}},{"transform":[{"filter":"datum.c=='DHA'"}],"mark":{"type":"bar","width":19,"xOffset":-19.5,"fill":{"gradient":"linear","x1":0,"y1":0,"x2":0,"y2":1,"stops":[{"offset":0,"color":"#FFD34A"},{"offset":1,"color":"#F2B000"}]}}}]},
      {"transform":[{"filter":"datum.m=='FA'"}],"mark":{"type":"text","baseline":"top","dy":6,"fontSize":8.5,"fontWeight":"bold","color":"#111111"},
       "encoding":{"x":{"field":"o","type":"nominal","bandPosition":0.256,"axis":null},"y":{"field":"v1","type":"quantitative"},"text":{"field":"c"}}},
      {"encoding":{"x":{"field":"o","type":"nominal","bandPosition":0.725,"axis":null},
        "y":{"datum":46.75,"type":"quantitative"},"theta":{"field":"v0","type":"quantitative","scale":{"domain":[0,100],"range":[-0.7854,5.4978]}},"theta2":{"field":"v1"}},
       "layer":[{"transform":[{"filter":"datum.c=='DB = 0'"}],"mark":{"type":"arc","outerRadius":24,"stroke":"#ffffff","strokeWidth":0.6,"fill":"#595959"}},{"transform":[{"filter":"datum.c=='DB = 1'"}],"mark":{"type":"arc","outerRadius":24,"stroke":"#ffffff","strokeWidth":0.6,"fill":{"gradient":"linear","x1":0,"y1":0,"x2":0,"y2":1,"stops":[{"offset":0,"color":"#3D64C3"},{"offset":1,"color":"#A6BAE7"}]}}},{"transform":[{"filter":"datum.c=='DB = 2'"}],"mark":{"type":"arc","outerRadius":24,"stroke":"#ffffff","strokeWidth":0.6,"fill":{"gradient":"linear","x1":0,"y1":0,"x2":0,"y2":1,"stops":[{"offset":0,"color":"#8AA2DB"},{"offset":1,"color":"#CBD6F2"}]}}},{"transform":[{"filter":"datum.c=='DB > 2'"}],"mark":{"type":"arc","outerRadius":24,"stroke":"#ffffff","strokeWidth":0.6,"fill":"#F4B183"}}]},
      {"transform":[{"filter":"datum.m=='DB'"}],"mark":{"type":"text","radius":14,"fontSize":5.5,"color":"#ffffff","align":"center","baseline":"middle"},
       "encoding":{"x":{"field":"o","type":"nominal","bandPosition":0.725,"axis":null},
        "y":{"datum":46.75,"type":"quantitative"},"theta":{"field":"v","type":"quantitative","stack":true,"scale":{"domain":[0,100],"range":[-0.7854,5.4978]}},"detail":{"field":"c"},"order":{"field":"c"},"text":{"field":"c"}}}
     ]}
   ]}
  ]}
 ]}
]}
]
}
